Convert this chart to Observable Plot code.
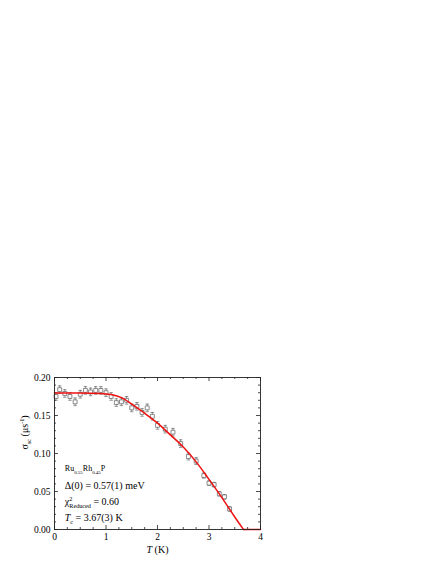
<!DOCTYPE html>
<html>
<head>
<meta charset="utf-8">
<script src="https://cdn.jsdelivr.net/npm/d3@7"></script>
<script src="https://cdn.jsdelivr.net/npm/@observablehq/plot@0.6"></script>
<style>
  html, body { margin: 0; padding: 0; background: #fff; }
  svg text { white-space: pre; }
</style>
</head>
<body>
<div id="chart"></div>
<script>
const temps = [0.03, 0.10, 0.20, 0.30, 0.40, 0.50, 0.60, 0.70, 0.80, 0.90, 1.00, 1.10, 1.20, 1.30, 1.40, 1.50, 1.60, 1.70, 1.80, 1.90, 2.00, 2.15, 2.30, 2.45, 2.60, 2.75, 2.90, 3.00, 3.10, 3.20, 3.30, 3.40];
const sigma = [0.175, 0.184, 0.179, 0.175, 0.168, 0.178, 0.183, 0.181, 0.183, 0.183, 0.180, 0.175, 0.167, 0.168, 0.170, 0.160, 0.162, 0.154, 0.160, 0.149, 0.137, 0.132, 0.128, 0.113, 0.096, 0.090, 0.071, 0.061, 0.059, 0.047, 0.043, 0.027];
const sigmaErr = [0.005, 0.005, 0.005, 0.005, 0.005, 0.005, 0.005, 0.005, 0.005, 0.005, 0.005, 0.005, 0.005, 0.005, 0.005, 0.005, 0.005, 0.005, 0.005, 0.005, 0.005, 0.005, 0.005, 0.005, 0.0045, 0.0045, 0.0035, 0.003, 0.003, 0.003, 0.003, 0.003];

// Fit curve
const fitT = [0, 0.5, 0.9, 1.1, 1.3, 1.5, 1.75, 2.0, 2.25, 2.5, 2.75, 3.0, 3.25, 3.5, 3.67];
const fitS = [0.1795, 0.1795, 0.1790, 0.1775, 0.1735, 0.1650, 0.1530, 0.1400, 0.1245, 0.1085, 0.0890, 0.0660, 0.0420, 0.0165, 0];
const zeroT = [3.67, 4.0];
const zeroS = [0, 0];

// Ticks
const xMajor = [0, 1, 2, 3, 4];
const xMinor = [0.25, 0.5, 0.75, 1.25, 1.5, 1.75, 2.25, 2.5, 2.75, 3.25, 3.5, 3.75];
const yMajor = [0, 0.05, 0.10, 0.15, 0.20];
const yMinor = [0.01, 0.02, 0.03, 0.04, 0.06, 0.07, 0.08, 0.09, 0.11, 0.12, 0.13, 0.14, 0.16, 0.17, 0.18, 0.19];

// Texts (markup: _{sub}, ^{sup}, *italic*)
const xLabel = "*T* (K)";
const yLabel = "σ_{sc} (μs^{-1})";
const compound = "Ru_{0.55}Rh_{0.45}P";
const gapText = "Δ(0) = 0.57(1) meV";
const chiText = "χ^{2}_{Reduced} = 0.60";
const tcText = "*T*_{c} = 3.67(3) K";
const richTexts = new Set([xLabel, yLabel, compound, gapText, chiText, tcText]);

const points = temps.map((t, i) => ({t, s: sigma[i], e: sigmaErr[i]}));
const fit = fitT.map((t, i) => ({t, s: fitS[i]}));
const zero = zeroT.map((t, i) => ({t, s: zeroS[i]}));

const W = 436, H = 564;
const mL = 54, mR = 176, mT = 377, mB = 35;
const plotW = W - mL - mR, plotH = H - mT - mB;

const capSymbol = {
  draw(ctx, size) {
    const w = Math.sqrt(size / Math.PI);
    ctx.moveTo(-w, 0);
    ctx.lineTo(w, 0);
  }
};

const ink = "#222";
const ptColor = "#666";
const fitColor = "#f01010";

const chart = Plot.plot({
  width: W,
  height: H,
  marginLeft: mL,
  marginRight: mR,
  marginTop: mT,
  marginBottom: mB,
  style: {fontFamily: "'Liberation Serif', 'Times New Roman', serif", fontSize: "9px", background: "#fff", color: "#000"},
  x: {domain: [0, 4]},
  y: {domain: [0, 0.2]},
  marks: [
    // tick labels
    Plot.axisX(xMajor, {anchor: "bottom", tickSize: 0, tickPadding: 4, fontSize: 9.5, label: null, tickFormat: d => String(d)}),
    Plot.axisY(yMajor, {anchor: "left", tickSize: 0, tickPadding: 4, fontSize: 9.5, label: null, tickFormat: d3.format(".2f")}),
    // inward ticks, all four sides
    Plot.tickX(xMajor, {x: d => d, insetTop: plotH - 4, stroke: ink, strokeWidth: 0.8}),
    Plot.tickX(xMinor, {x: d => d, insetTop: plotH - 2, stroke: ink, strokeWidth: 0.8}),
    Plot.tickX(xMajor, {x: d => d, insetBottom: plotH - 4, stroke: ink, strokeWidth: 0.8}),
    Plot.tickX(xMinor, {x: d => d, insetBottom: plotH - 2, stroke: ink, strokeWidth: 0.8}),
    Plot.tickY(yMajor, {y: d => d, insetRight: plotW - 4, stroke: ink, strokeWidth: 0.8}),
    Plot.tickY(yMinor, {y: d => d, insetRight: plotW - 2, stroke: ink, strokeWidth: 0.8}),
    Plot.tickY(yMajor, {y: d => d, insetLeft: plotW - 4, stroke: ink, strokeWidth: 0.8}),
    Plot.tickY(yMinor, {y: d => d, insetLeft: plotW - 2, stroke: ink, strokeWidth: 0.8}),
    // error bars
    Plot.ruleX(points, {x: "t", y1: d => d.s - d.e, y2: d => d.s + d.e, stroke: ptColor, strokeWidth: 0.7}),
    Plot.dot(points, {x: "t", y: d => d.s + d.e, symbol: capSymbol, r: 1.7, stroke: ptColor, strokeWidth: 0.7, fill: "none"}),
    Plot.dot(points, {x: "t", y: d => d.s - d.e, symbol: capSymbol, r: 1.7, stroke: ptColor, strokeWidth: 0.7, fill: "none"}),
    // open squares
    Plot.dot(points, {x: "t", y: "s", symbol: "square", r: 2.2, stroke: ptColor, strokeWidth: 0.75, fill: "#fff"}),
    // fit
    Plot.line(fit, {x: "t", y: "s", stroke: fitColor, strokeWidth: 1.5, curve: "monotone-x"}),
    Plot.line(zero, {x: "t", y: "s", stroke: fitColor, strokeWidth: 1.5}),
    Plot.frame({stroke: ink, strokeWidth: 0.9}),
    // annotations
    Plot.text([compound], {x: 0.2, y: 0.080, text: d => d, textAnchor: "start", fontSize: 8, fill: "#000"}),
    Plot.text([gapText], {x: 0.2, y: 0.0575, text: d => d, textAnchor: "start", fontSize: 10, fill: "#000"}),
    Plot.text([chiText], {x: 0.2, y: 0.0365, text: d => d, textAnchor: "start", fontSize: 10, fill: "#000"}),
    Plot.text([tcText], {x: 0.2, y: 0.0155, text: d => d, textAnchor: "start", fontSize: 10, fill: "#000"}),
    // axis titles
    Plot.text([xLabel], {frameAnchor: "bottom", dy: 23, text: d => d, fontSize: 10, fill: "#000"}),
    Plot.text([yLabel], {frameAnchor: "left", dx: -30, dy: -4, rotate: -90, text: d => d, fontSize: 10, fill: "#000"})
  ]
});

document.getElementById("chart").appendChild(chart);

// Turn simple markup into tspans: _{sub}, ^{sup}, *italic*
function richify(el) {
  const markup = el.textContent;
  const fs = parseFloat(getComputedStyle(el).fontSize) || 10;
  const ns = "http://www.w3.org/2000/svg";
  const parts = markup.split(/(_\{[^}]*\}|\^\{[^}]*\}|\*[^*]+\*)/).filter(p => p !== "");
  while (el.firstChild) el.removeChild(el.firstChild);
  let cur = 0, prevSup = null;
  for (const p of parts) {
    let kind = "n", txt = p;
    if (p.startsWith("_{")) { kind = "sub"; txt = p.slice(2, -1); }
    else if (p.startsWith("^{")) { kind = "sup"; txt = p.slice(2, -1); }
    else if (p.length > 1 && p[0] === "*" && p[p.length - 1] === "*") { kind = "it"; txt = p.slice(1, -1); }
    const target = kind === "sub" ? fs * 0.32 : kind === "sup" ? -fs * 0.42 : 0;
    const ts = document.createElementNS(ns, "tspan");
    ts.setAttribute("dy", (target - cur).toFixed(2));
    cur = target;
    if (kind === "sub" || kind === "sup") ts.setAttribute("font-size", (fs * 0.62).toFixed(2));
    if (kind === "it") ts.setAttribute("font-style", "italic");
    ts.textContent = txt;
    el.appendChild(ts);
    if (kind === "sub" && prevSup) {
      ts.setAttribute("dx", (-prevSup.getComputedTextLength()).toFixed(2));
    }
    prevSup = kind === "sup" ? ts : null;
  }
}
chart.querySelectorAll("text").forEach(el => {
  if (richTexts.has(el.textContent)) richify(el);
});
</script>
</body>
</html>
